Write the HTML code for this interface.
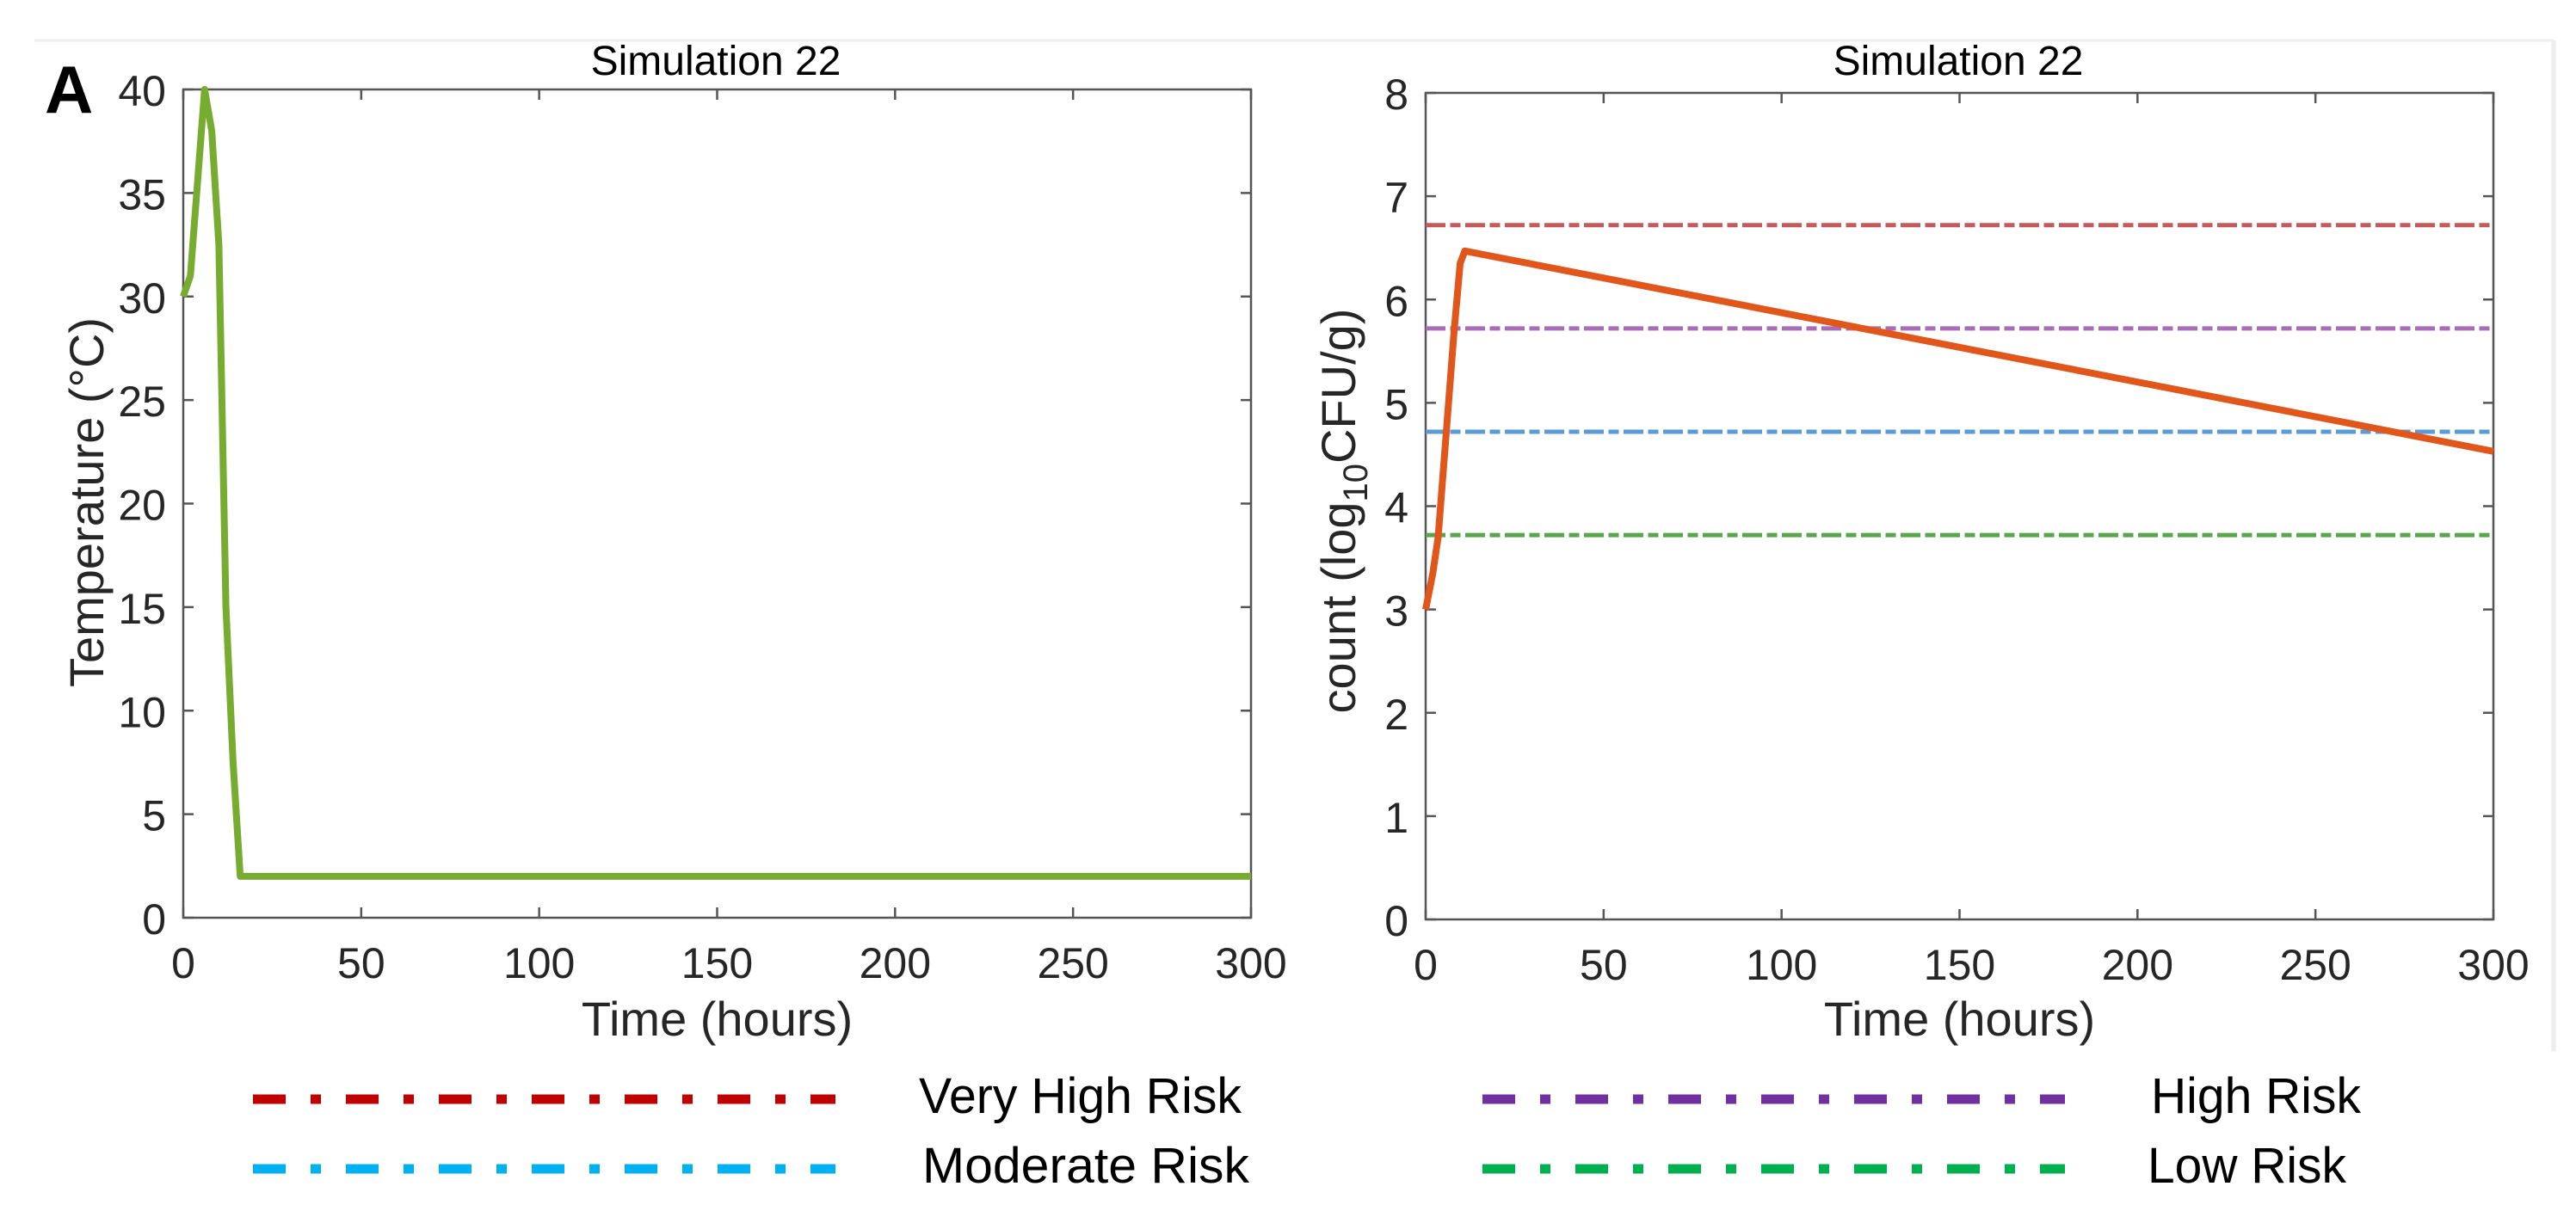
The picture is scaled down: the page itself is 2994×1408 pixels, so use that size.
<!DOCTYPE html>
<html><head><meta charset="utf-8"><style>
html,body{margin:0;padding:0;background:#fff;}
svg{display:block;}
text{font-family:"Liberation Sans",sans-serif;fill:#262626;}
</style></head><body>
<svg id="fig" width="2994" height="1408" viewBox="0 0 2994 1408" xmlns="http://www.w3.org/2000/svg">
<rect x="0" y="0" width="2994" height="1408" fill="#fff"/>
<line x1="40" y1="47" x2="2968" y2="47" stroke="#eee" stroke-width="3"/>
<line x1="2968" y1="47" x2="2968" y2="1222" stroke="#eee" stroke-width="5"/>
<text x="52" y="131" font-size="78" font-weight="bold" style="fill:#000">A</text>
<g id="left"></g>
<g id="right"></g>
<g id="legend"></g>
</svg>
<script>
const NS="http://www.w3.org/2000/svg";
// Left chart data
const tempTimes=[0,2,6,8,10,12,14,16,300];
const tempValues=[30,31,40,38,32.5,15,7.5,2,2];
const xTicks=[0,50,100,150,200,250,300];
const tempTicks=[0,5,10,15,20,25,30,35,40];
// Right chart data
const countTimes=[0,2,3.5,5.8,8,9.7,11,300];
const countValues=[3,3.35,3.7,4.72,5.7,6.35,6.47,4.53];
const countTicks=[0,1,2,3,4,5,6,7,8];
const riskNames=["Very High Risk","High Risk","Moderate Risk","Low Risk"];
const riskLevels=[6.72,5.72,4.72,3.72];
const riskColors=["#c55a5a","#a86cb8","#5b9bd5","#5aa64e"];
const legendColors=["#c00000","#7030a0","#00b0f0","#00b050"];

function el(tag,attrs,parent){const e=document.createElementNS(NS,tag);for(const k in attrs)e.setAttribute(k,attrs[k]);parent.appendChild(e);return e;}

function axes(g,box,xmax,ymax,yTicks,title,titleX){
  const sx=v=>box.x0+(box.x1-box.x0)*v/xmax;
  const sy=v=>box.y0-(box.y0-box.y1)*v/ymax;
  const r=el('rect',{x:box.x0,y:box.y1,width:box.x1-box.x0,height:box.y0-box.y1,fill:'none',stroke:'#555',"stroke-width":2.5},g);
  
  
  xTicks.forEach(t=>{
    const x=sx(t);
    el('line',{x1:x,y1:box.y0,x2:x,y2:box.y0-12,stroke:'#555','stroke-width':2.5},g);
    el('line',{x1:x,y1:box.y1,x2:x,y2:box.y1+12,stroke:'#555','stroke-width':2.5},g);
    const tx=el('text',{x:x,y:box.y0+70,'font-size':50,'text-anchor':'middle'},g);
    tx.textContent=t;
    
    
  });
  yTicks.forEach(t=>{
    const y=sy(t);
    el('line',{x1:box.x0,y1:y,x2:box.x0+12,y2:y,stroke:'#555','stroke-width':2.5},g);
    el('line',{x1:box.x1,y1:y,x2:box.x1-12,y2:y,stroke:'#555','stroke-width':2.5},g);
    const tx=el('text',{x:box.x0-20,y:y+19,'font-size':50,'text-anchor':'end'},g);
    tx.textContent=t;
    
    
  });
  const tt=el('text',{x:titleX,y:87,'font-size':48,'text-anchor':'middle',style:'fill:#000'},g);
  tt.textContent=title;
  
  
  const xl=el('text',{x:(box.x0+box.x1)/2,y:1204,'font-size':56,'text-anchor':'middle'},g);
  xl.textContent='Time (hours)';
  
  
  return {sx,sy};
}
function series(g,xs,ys,s,color,w,name){
  const d=xs.map((t,i)=>(i?'L':'M')+s.sx(t).toFixed(1)+','+s.sy(ys[i]).toFixed(1)).join(' ');
  const p=el('path',{d:d,fill:'none',stroke:color,'stroke-width':w,'stroke-linejoin':'round'},g);
  
  
}
// Left
const L=document.getElementById('left');
const lb={x0:213,x1:1454,y0:1067,y1:104};
const ls=axes(L,lb,300,40,tempTicks,'Simulation 22',832);
series(L,tempTimes,tempValues,ls,'#77ac30',8,'temperature-line');
const ly=el('text',{x:0,y:0,'font-size':56,'text-anchor':'middle',transform:'translate(120,584) rotate(-90)'},L);
ly.textContent='Temperature (°C)';


// Right
const R=document.getElementById('right');
const rb={x0:1657,x1:2898,y0:1069,y1:108};
const rs=axes(R,rb,300,8,countTicks,'Simulation 22',2276);
riskLevels.forEach((v,i)=>{
  const y=rs.sy(v);
  const ln=el('line',{x1:rb.x0,y1:y,x2:rb.x1,y2:y,stroke:riskColors[i],'stroke-width':5,'stroke-dasharray':'23 5.5 12 5.5'},R);
  
  
});
series(R,countTimes,countValues,rs,'#e0561b',8,'count-line');
const ry=el('text',{x:0,y:0,'font-size':56,'text-anchor':'middle',transform:'translate(1575,594) rotate(-90)'},R);
ry.innerHTML='count (log<tspan font-size="40" dy="14">10</tspan><tspan dy="-14">CFU/g)</tspan>';


// Legend
const G=document.getElementById('legend');
const lpos=[[294,1278,1068,375],[1723,1278,2500,244],[294,1359,1072,380],[1723,1359,2496,231]];
lpos.forEach((p,i)=>{
  const ln=el('line',{x1:p[0],y1:p[1],x2:p[0]+677,y2:p[1],stroke:legendColors[i],'stroke-width':11,'stroke-dasharray':'38 29 12 29'},G);
  
  
  const t=el('text',{x:p[2],y:p[1]+16,'font-size':58,textLength:p[3],lengthAdjust:'spacingAndGlyphs',style:'fill:#000'},G);
  t.textContent=riskNames[i];
  
  
});
</script>
</body></html>
